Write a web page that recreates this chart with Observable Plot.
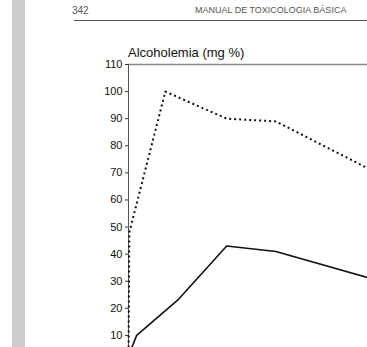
<!DOCTYPE html>
<html>
<head>
<meta charset="utf-8">
<script src="https://cdn.jsdelivr.net/npm/d3@7"></script>
<script src="https://cdn.jsdelivr.net/npm/@observablehq/plot@0.6"></script>
<style>
  html, body { margin: 0; padding: 0; background: #fff; width: 367px; height: 347px; overflow: hidden; }
  #wrap { position: relative; width: 367px; height: 347px; }
  #strip { position: absolute; left: 12px; top: 0; width: 13px; height: 347px; background: #cdcdcd; }
  .hdr { position: absolute; font-family: Arial, "Liberation Sans", sans-serif; color: #555; white-space: nowrap; }
  #pagenum { left: 72px; top: 5px; font-size: 10px; }
  #booktitle { left: 195px; top: 5px; font-size: 9px; letter-spacing: 0; }
  #rule { position: absolute; left: 74px; top: 20px; width: 293px; height: 1px; background: #555; }
  #title { position: absolute; left: 128px; top: 45px; font-family: Arial, "Liberation Sans", sans-serif; font-size: 13px; color: #111; white-space: nowrap; }
  #chart { position: absolute; left: 0; top: 0; }
</style>
</head>
<body>
<div id="wrap">
  <div id="strip"></div>
  <div id="chart"></div>
  <div id="pagenum" class="hdr"></div>
  <div id="booktitle" class="hdr"></div>
  <div id="rule"></div>
  <div id="title"></div>
</div>
<script>
// Data (time in minutes, blood alcohol in mg %)
const headerPage = "342";
const headerBook = "MANUAL DE TOXICOLOGIA BÁSICA";
const yTitle = "Alcoholemia (mg %)";
const yTicks = [10, 20, 30, 40, 50, 60, 70, 80, 90, 100, 110];
const dottedMinutes = [0, 1, 45, 120, 180, 300];
const dottedValues = [0, 48, 100, 90, 89, 70.5];
const solidMinutes = [0, 10, 60, 120, 180, 300];
const solidValues = [2.5, 10, 23, 43, 41, 30.7];

const dotted = dottedMinutes.map((t, i) => ({t, v: dottedValues[i]}));
const solid = solidMinutes.map((t, i) => ({t, v: solidValues[i]}));

document.getElementById("pagenum").textContent = headerPage;
document.getElementById("booktitle").textContent = headerBook;
document.getElementById("title").textContent = yTitle;

const chart = Plot.plot({
  width: 367,
  height: 347,
  marginLeft: 128,
  marginTop: 64,
  marginRight: 0,
  marginBottom: 0,
  style: {background: "transparent", overflow: "hidden", fontFamily: "Arial, 'Liberation Sans', sans-serif", color: "#111"},
  x: {domain: [0, 292], range: [128, 367], axis: null},
  y: {domain: [0, 110], range: [362, 64], axis: null},
  marks: [
    Plot.ruleY([110], {stroke: "#8a8a8a", strokeWidth: 1.5}),
    Plot.ruleX([0], {stroke: "#555", strokeWidth: 1}),
    Plot.axisY(yTicks, {tickSize: 3, tickPadding: 3, fontSize: 11, label: null, stroke: "#333", fill: "#111"}),
    Plot.line(solid, {x: "t", y: "v", stroke: "#111", strokeWidth: 1.6}),
    Plot.line(dotted, {x: "t", y: "v", stroke: "#111", strokeWidth: 2, strokeDasharray: "2,3", strokeLinecap: "butt"})
  ]
});
document.getElementById("chart").appendChild(chart);
</script>
</body>
</html>
